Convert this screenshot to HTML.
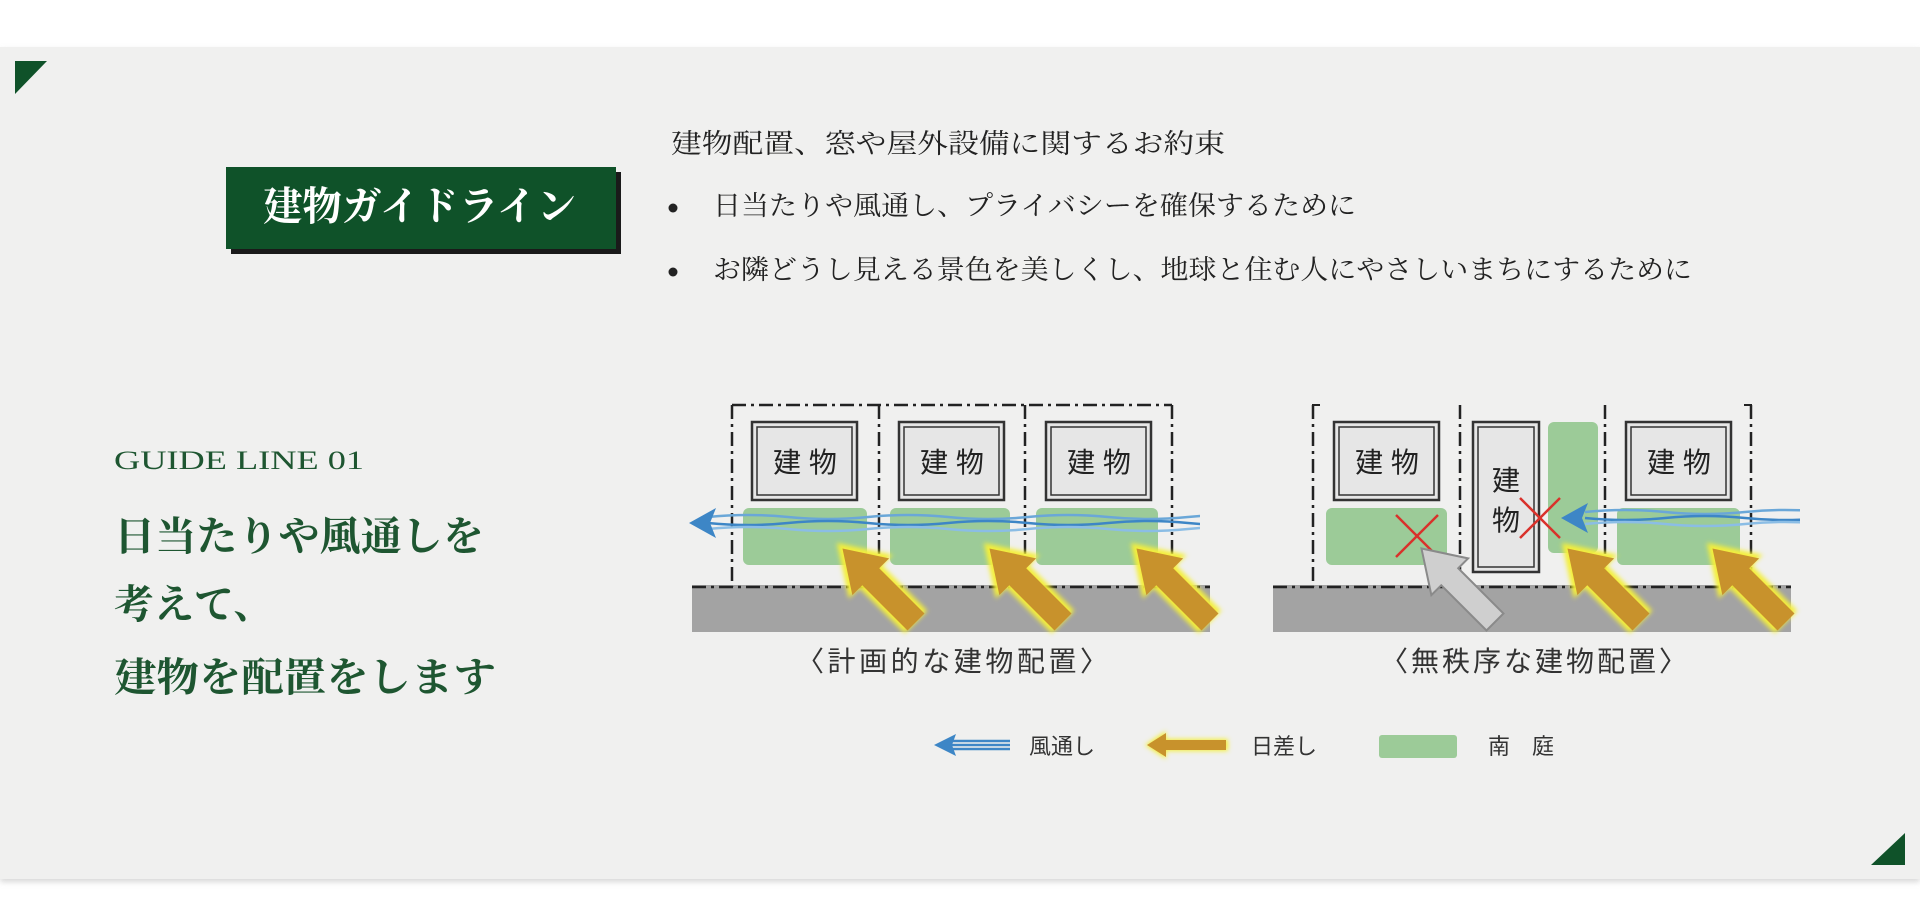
<!DOCTYPE html>
<html><head><meta charset="utf-8"><style>
html,body{margin:0;padding:0;background:#fff;}
svg{display:block;}
.s{font-family:"Liberation Serif","Noto Serif CJK JP",serif;}
.g{font-family:"Liberation Sans","Noto Sans CJK JP",sans-serif;}
</style></head><body>
<svg width="1920" height="916" viewBox="0 0 1920 916" xmlns="http://www.w3.org/2000/svg">
<defs>
<filter id="blur" x="-20%" y="-20%" width="140%" height="140%"><feGaussianBlur stdDeviation="2.5"/></filter>
<filter id="sh" x="-5%" y="-5%" width="110%" height="120%"><feGaussianBlur stdDeviation="3"/></filter>
<clipPath id="cl1"><rect x="680" y="480" width="520" height="80"/></clipPath>
<clipPath id="cl2"><rect x="1560" y="480" width="240" height="80"/></clipPath>
<g id="sun">
<polygon points="0,-16 64,-16 64,-31 112,0 64,31 64,16 0,16" fill="#f4ef3a" filter="url(#blur)"/>
<polygon points="0,-12 64,-12 64,-26 104,0 64,26 64,12 0,12" fill="#c8922c"/>
</g>
<g id="bld">
<rect x="0" y="0" width="105" height="78" fill="#e6e6e6" stroke="#333" stroke-width="2.5"/>
<rect x="5" y="5" width="95" height="68" fill="none" stroke="#333" stroke-width="1.5"/>
</g>
<g id="wind">
<path d="M0,-6 q40,-4 80,0 t80,0 t80,0 t80,0 t80,0 t80,0 t80,0" fill="none" stroke="#6aa7d8" stroke-width="2.5"/>
<path d="M0,0 q40,4 80,0 t80,0 t80,0 t80,0 t80,0 t80,0 t80,0" fill="none" stroke="#3d86c6" stroke-width="2.5"/>
<path d="M0,6 q40,-4 80,0 t80,0 t80,0 t80,0 t80,0 t80,0 t80,0" fill="none" stroke="#8bbde5" stroke-width="2.5"/>
</g>
</defs>
<rect x="0" y="50" width="1920" height="832" fill="#d8d8d8" filter="url(#sh)"/>
<rect x="0" y="47" width="1920" height="832" fill="#f0f0ef"/>
<polygon points="15,61 47,61 15,94" fill="#0f5229"/>
<polygon points="1905,833 1905,865 1871,865" fill="#0f5229"/>

<rect x="231" y="172" width="390" height="82" fill="#1a1a1a"/>
<rect x="226" y="167" width="390" height="82" fill="#0f5229"/>
<text x="263" y="220" class="s" font-size="40" font-weight="bold" fill="#fff" textLength="313" lengthAdjust="spacingAndGlyphs">建物ガイドライン</text>

<text x="671" y="153" class="s" font-size="27" fill="#222" textLength="554" lengthAdjust="spacingAndGlyphs">建物配置、窓や屋外設備に関するお約束</text>
<circle cx="673" cy="208" r="4.5" fill="#222"/>
<text x="713" y="215" class="s" font-size="27" fill="#222" textLength="643" lengthAdjust="spacingAndGlyphs">日当たりや風通し、プライバシーを確保するために</text>
<circle cx="673" cy="272" r="4.5" fill="#222"/>
<text x="713" y="279" class="s" font-size="27" fill="#222" textLength="979" lengthAdjust="spacingAndGlyphs">お隣どうし見える景色を美しくし、地球と住む人にやさしいまちにするために</text>

<text x="114" y="469" class="s" font-size="26" fill="#1e5631" textLength="250" lengthAdjust="spacingAndGlyphs">GUIDE LINE 01</text>
<g class="s" font-size="40" font-weight="bold" fill="#1e5631">
<text x="114" y="550" textLength="370" lengthAdjust="spacingAndGlyphs">日当たりや風通しを</text>
<text x="114" y="618">考えて、</text>
<text x="114" y="691" textLength="382" lengthAdjust="spacingAndGlyphs">建物を配置をします</text>
</g>

<!-- Left diagram -->
<rect x="692" y="585" width="518" height="47" fill="#a3a3a3"/>
<g stroke="#222" stroke-width="2.5" fill="none" stroke-dasharray="14,5,3,5">
<line x1="692" y1="587" x2="1210" y2="587"/>
<line x1="732" y1="405" x2="1172" y2="405"/>
<line x1="732" y1="405" x2="732" y2="587"/>
<line x1="879" y1="405" x2="879" y2="587"/>
<line x1="1025" y1="405" x2="1025" y2="587"/>
<line x1="1172" y1="405" x2="1172" y2="587"/>
</g>
<use href="#bld" x="752" y="422"/>
<use href="#bld" x="899" y="422"/>
<use href="#bld" x="1046" y="422"/>
<g class="g" font-size="28" fill="#222" text-anchor="middle">
<text x="805" y="472">建 物</text><text x="952" y="472">建 物</text><text x="1099" y="472">建 物</text>
</g>
<g fill="#9ccb98">
<rect x="743" y="508" width="124" height="57" rx="6"/>
<rect x="890" y="508" width="120" height="57" rx="6"/>
<rect x="1036" y="508" width="122" height="57" rx="6"/>
</g>
<g clip-path="url(#cl1)"><use href="#wind" x="708" y="523"/></g>
<polygon points="689,523 716,508 710,523 716,538" fill="#3d86c6"/>
<use href="#sun" transform="translate(916,622) rotate(225)"/>
<use href="#sun" transform="translate(1063,622) rotate(225)"/>
<use href="#sun" transform="translate(1210,622) rotate(225)"/>
<text x="796" y="671" class="g" font-size="28" fill="#333" textLength="312" lengthAdjust="spacing">〈計画的な建物配置〉</text>

<!-- Right diagram -->
<rect x="1273" y="585" width="518" height="47" fill="#a3a3a3"/>
<g stroke="#222" stroke-width="2.5" fill="none" stroke-dasharray="14,5,3,5">
<line x1="1273" y1="587" x2="1791" y2="587"/>
<line x1="1313" y1="405" x2="1313" y2="587"/>
<line x1="1460" y1="405" x2="1460" y2="587"/>
<line x1="1605" y1="405" x2="1605" y2="587"/>
<line x1="1751" y1="405" x2="1751" y2="587"/>
</g>
<g stroke="#222" stroke-width="2" fill="none"><path d="M1313,410 V405 H1320"/><path d="M1744,405 H1751 V410"/></g>
<use href="#bld" x="1334" y="422"/>
<rect x="1473" y="422" width="66" height="150" fill="#e6e6e6" stroke="#333" stroke-width="2.5"/>
<rect x="1478" y="427" width="56" height="140" fill="none" stroke="#333" stroke-width="1.5"/>
<use href="#bld" x="1626" y="422"/>
<g class="g" font-size="28" fill="#222" text-anchor="middle">
<text x="1387" y="472">建 物</text><text x="1679" y="472">建 物</text>
<text x="1506" y="490">建</text><text x="1506" y="530">物</text>
</g>
<g fill="#9ccb98">
<rect x="1326" y="508" width="121" height="57" rx="6"/>
<rect x="1548" y="422" width="50" height="131" rx="6"/>
<rect x="1617" y="508" width="123" height="57" rx="6"/>
</g>
<g clip-path="url(#cl2)"><use href="#wind" x="1585" y="518"/></g>
<polygon points="1561,518 1588,503 1582,518 1588,533" fill="#3d86c6"/>
<g stroke="#d9312b" stroke-width="2.5">
<line x1="1396" y1="515" x2="1438" y2="557"/><line x1="1438" y1="515" x2="1396" y2="557"/>
<line x1="1520" y1="498" x2="1560" y2="538"/><line x1="1560" y1="498" x2="1520" y2="538"/>
</g>
<g transform="translate(1495,622) rotate(225)">
<polygon points="0,-12 64,-12 64,-26 104,0 64,26 64,12 0,12" fill="#cfcfcf" stroke="#8a8a8a" stroke-width="2"/>
</g>
<use href="#sun" transform="translate(1641,622) rotate(225)"/>
<use href="#sun" transform="translate(1786,622) rotate(225)"/>
<text x="1380" y="671" class="g" font-size="28" fill="#333" textLength="307" lengthAdjust="spacing">〈無秩序な建物配置〉</text>

<!-- Legend -->
<g transform="translate(950,745)">
<path d="M0,-4 H60 M0,0 H60 M0,4 H60" stroke="#3d86c6" stroke-width="2.5"/>
</g>
<polygon points="934,745 956,734 952,745 956,756" fill="#3d86c6"/>
<text x="1029" y="754" class="g" font-size="22" fill="#333">風通し</text>
<polygon points="1145,745 1166,731 1166,739 1228,739 1228,751 1166,751 1166,759" fill="#f4ef3a" filter="url(#blur)"/>
<polygon points="1147,745 1166,733 1166,740 1226,740 1226,750 1166,750 1166,757" fill="#c8922c"/>
<text x="1251" y="754" class="g" font-size="22" fill="#333">日差し</text>
<rect x="1379" y="735" width="78" height="23" rx="3" fill="#9ccb98"/>
<text x="1488" y="754" class="g" font-size="22" fill="#333">南　庭</text>
</svg>
</body></html>
